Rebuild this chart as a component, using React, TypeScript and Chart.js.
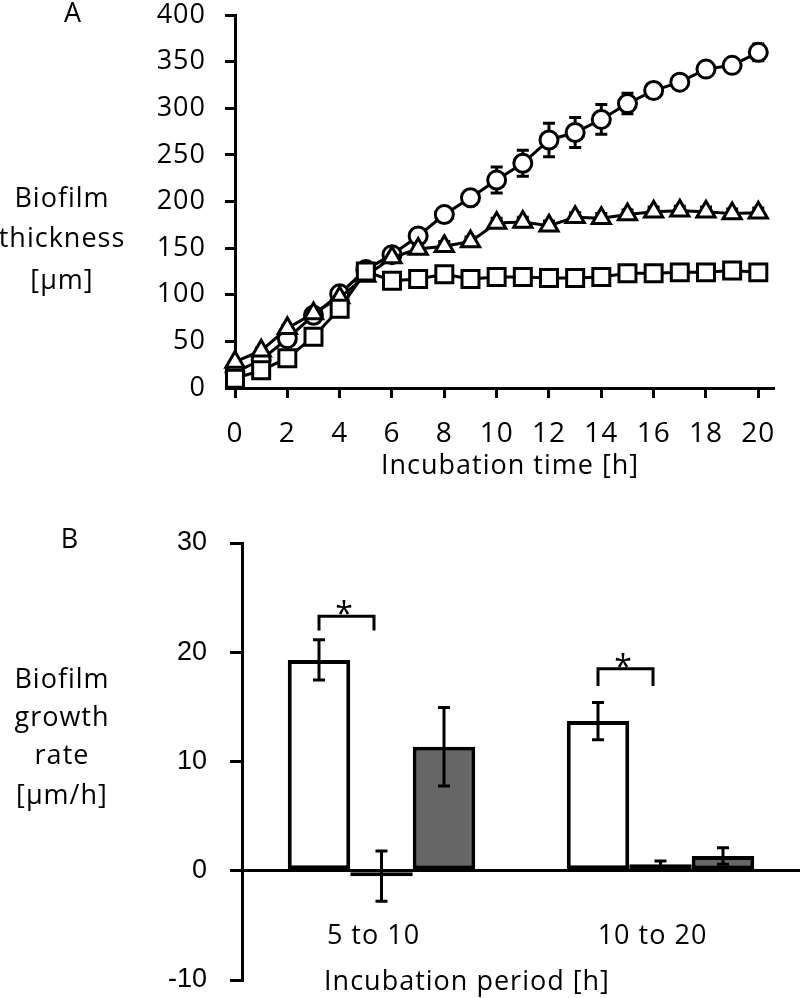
import { useEffect, useRef } from 'react';
import { Chart, registerables } from 'chart.js';

Chart.register(...registerables);

// ---------- Panel A data ----------
const times = [0, 1, 2, 3, 4, 5, 6, 7, 8, 9, 10, 11, 12, 13, 14, 15, 16, 17, 18, 19, 20];
const circleThickness = [17, 30, 53, 78, 101, 127, 143, 163, 186, 204, 223, 241, 266, 274, 288, 305, 319, 328, 342, 346, 360];
const circleErr = [2, 3, 3, 4, 4, 5, 5, 5, 6, 6, 14, 14, 18, 16, 16, 11, 6, 5, 6, 7, 9];
const triangleThickness = [28, 40, 64, 80, 97, 120, 140, 149, 152, 157, 177, 178, 174, 183, 182, 186, 189, 190, 189, 187, 188];
const triangleErr = [2, 3, 3, 3, 4, 4, 4, 4, 5, 5, 5, 5, 5, 5, 5, 5, 5, 5, 5, 5, 5];
const squareThickness = [10, 19, 32, 55, 85, 125, 115, 117, 122, 117, 119, 119, 118, 118, 119, 123, 123, 124, 124, 126, 124];
const squareErr = [2, 2, 3, 3, 4, 4, 4, 4, 4, 4, 4, 4, 4, 4, 4, 4, 4, 4, 4, 4, 4];
const panelALabel = 'A';
const panelAYTitle = ['Biofilm', 'thickness', '[µm]'];
const panelAXTitle = 'Incubation time [h]';

// ---------- Panel B data ----------
const periods = ['5 to 10', '10 to 20'];
const whiteRate = [19.3, 13.7];
const whiteRateErr = [1.85, 1.7];
const blackRate = [-0.5, 0.6];
const blackRateErr = [2.3, 0.3];
const greyRate = [11.35, 1.35];
const greyRateErr = [3.6, 0.75];
const sigBracketTop = [23.3, 18.5];
const sigBracketLeg = [22.0, 16.9];
const panelBLabel = 'B';
const panelBYTitle = ['Biofilm', 'growth', 'rate', '[µm/h]'];
const panelBXTitle = 'Incubation period [h]';

const SANS = '"Open Sans", "Noto Sans", sans-serif';

function makeErrorBarPlugin(id: string, hook: 'beforeDatasetsDraw' | 'afterDatasetsDraw') {
  return {
    id,
    [hook](chart: any) {
      const ctx = chart.ctx;
      const yScale = chart.scales.y;
      ctx.save();
      ctx.strokeStyle = '#000';
      ctx.lineWidth = 3;
      ctx.lineCap = 'butt';
      chart.data.datasets.forEach((ds: any, di: number) => {
        const errs = ds.errors as number[] | undefined;
        if (!errs) return;
        const meta = chart.getDatasetMeta(di);
        meta.data.forEach((el: any, i: number) => {
          const raw = ds.data[i];
          const v = typeof raw === 'number' ? raw : raw.y;
          const e = errs[i];
          if (!e) return;
          const yT = yScale.getPixelForValue(v + e);
          const yB = yScale.getPixelForValue(v - e);
          const x = el.x;
          ctx.beginPath();
          ctx.moveTo(x, yT);
          ctx.lineTo(x, yB);
          ctx.moveTo(x - 6, yT);
          ctx.lineTo(x + 6, yT);
          ctx.moveTo(x - 6, yB);
          ctx.lineTo(x + 6, yB);
          ctx.stroke();
        });
      });
      ctx.restore();
    },
  };
}

const panelATextPlugin = {
  id: 'panelAText',
  beforeDraw(chart: any) {
    (chart.ctx as any).letterSpacing = '1px';
  },
  afterDraw(chart: any) {
    const ctx = chart.ctx;
    ctx.save();
    (ctx as any).letterSpacing = '1px';
    ctx.fillStyle = '#000';
    ctx.textAlign = 'center';
    ctx.textBaseline = 'middle';
    ctx.font = `27px ${SANS}`;
    ctx.fillText(panelALabel, 73, 14);
    const ys = [199, 239, 281];
    panelAYTitle.forEach((t, i) => ctx.fillText(t, 62, ys[i]));
    ctx.fillText(panelAXTitle, 510, 466);
    ctx.restore();
  },
};

const panelBTextPlugin = {
  id: 'panelBText',
  afterDraw(chart: any) {
    const ctx = chart.ctx;
    const x = chart.scales.x;
    const y = chart.scales.y;
    ctx.save();
    (ctx as any).letterSpacing = '1px';
    ctx.fillStyle = '#000';
    ctx.strokeStyle = '#000';
    ctx.textAlign = 'center';
    ctx.textBaseline = 'middle';
    ctx.font = `27px ${SANS}`;
    ctx.fillText(panelBLabel, 70, 40);
    const ys = [180, 218, 256, 296];
    panelBYTitle.forEach((t, i) => ctx.fillText(t, 62, ys[i]));
    periods.forEach((p, i) => ctx.fillText(p, x.getPixelForValue(i) - 8, 436));
    ctx.fillText(panelBXTitle, 467, 482);
    // significance brackets
    const m0 = chart.getDatasetMeta(0);
    const m1 = chart.getDatasetMeta(1);
    ctx.lineWidth = 3;
    ctx.lineJoin = 'miter';
    ctx.font = `32px ${SANS}`;
    sigBracketTop.forEach((top, i) => {
      const x1 = m0.data[i].x;
      const x2 = x1 + (m1.data[i].x - x1) * 0.88;
      const yT = y.getPixelForValue(top);
      const yL = y.getPixelForValue(sigBracketLeg[i]);
      ctx.beginPath();
      ctx.moveTo(x1, yL);
      ctx.lineTo(x1, yT);
      ctx.lineTo(x2, yT);
      ctx.lineTo(x2, yL);
      ctx.stroke();
      ctx.textBaseline = 'alphabetic';
      ctx.fillText('*', (x1 + x2) / 2 - 2, yT + 9);
      ctx.textBaseline = 'middle';
    });
    ctx.restore();
  },
};

function PanelA() {
  const ref = useRef<HTMLCanvasElement | null>(null);
  useEffect(() => {
    if (!ref.current) return;
    const mk = (vals: number[], errs: number[], style: string, radius: number, order: number) => ({
      data: times.map((t, i) => ({ x: t, y: vals[i] })),
      errors: errs,
      borderColor: '#000',
      borderWidth: 3,
      pointStyle: style,
      pointRadius: radius,
      pointBorderWidth: 3,
      pointBorderColor: '#000',
      pointBackgroundColor: '#fff',
      backgroundColor: '#fff',
      tension: 0,
      clip: false,
      order,
    });
    const chart = new Chart(ref.current, {
      type: 'line',
      data: {
        datasets: [
          mk(circleThickness, circleErr, 'circle', 9, 2),
          mk(triangleThickness, triangleErr, 'triangle', 10.5, 1),
          mk(squareThickness, squareErr, 'rect', 12, 0),
        ] as any,
      },
      options: {
        animation: false,
        responsive: false,
        maintainAspectRatio: false,
        devicePixelRatio: 1,
        layout: { padding: { top: 12, right: 26, left: 0, bottom: 0 } },
        plugins: { legend: { display: false }, tooltip: { enabled: false } },
        scales: {
          x: {
            type: 'linear',
            min: 0,
            max: 20.6,
            afterBuildTicks: (axis: any) => {
              axis.ticks = axis.ticks.filter((t: any) => t.value % 2 === 0 && t.value <= 20);
            },
            afterFit: (s: any) => {
              s.height = 102;
              s.paddingLeft = 0;
              s.paddingRight = 0;
            },
            ticks: { stepSize: 2, includeBounds: false, color: '#000', font: { family: SANS, size: 28 }, padding: 19, maxRotation: 0, autoSkip: false },
            grid: { display: true, drawOnChartArea: false, drawTicks: true, tickLength: 10, tickWidth: 3, tickColor: '#000' },
            border: { display: true, color: '#000', width: 3 },
          },
          y: {
            type: 'linear',
            min: 0,
            max: 400,
            afterFit: (s: any) => {
              s.width = 235;
              s.paddingTop = 0;
              s.paddingBottom = 0;
            },
            ticks: { stepSize: 50, color: '#000', font: { family: SANS, size: 27 }, padding: 19 },
            grid: { display: true, drawOnChartArea: false, drawTicks: true, tickLength: 10, tickWidth: 3, tickColor: '#000' },
            border: { display: true, color: '#000', width: 3 },
          },
        },
      } as any,
      plugins: [makeErrorBarPlugin('errA', 'beforeDatasetsDraw'), panelATextPlugin],
    });
    return () => chart.destroy();
  }, []);
  return <canvas ref={ref} width={800} height={490} style={{ position: 'absolute', left: 0, top: 0, width: 800, height: 490 }} />;
}

function PanelB() {
  const ref = useRef<HTMLCanvasElement | null>(null);
  useEffect(() => {
    if (!ref.current) return;
    const mk = (vals: number[], errs: number[], fill: string) => ({
      data: vals,
      errors: errs,
      backgroundColor: fill,
      borderColor: '#000',
      borderWidth: 4,
      borderSkipped: false,
      barPercentage: 1,
      categoryPercentage: 0.672,
    });
    const chart = new Chart(ref.current, {
      type: 'bar',
      data: {
        labels: periods,
        datasets: [mk(whiteRate, whiteRateErr, '#ffffff'), mk(blackRate, blackRateErr, '#000000'), mk(greyRate, greyRateErr, '#666666')] as any,
      },
      options: {
        animation: false,
        responsive: false,
        maintainAspectRatio: false,
        devicePixelRatio: 1,
        layout: { padding: { top: 43, right: 0, left: 0, bottom: 18 } },
        plugins: { legend: { display: false }, tooltip: { enabled: false } },
        scales: {
          x: { display: false },
          y: {
            min: -10,
            max: 30,
            afterFit: (s: any) => {
              s.width = 242;
              s.paddingTop = 0;
              s.paddingBottom = 0;
            },
            ticks: { stepSize: 10, color: '#000', font: { family: '"Liberation Sans", Arial, sans-serif', size: 27 }, padding: 23 },
            grid: {
              display: true,
              drawOnChartArea: true,
              drawTicks: true,
              color: (c: any) => (c.tick && c.tick.value === 0 ? '#000' : 'rgba(0,0,0,0)'),
              lineWidth: 3,
              tickLength: 12,
              tickWidth: 3,
              tickColor: '#000',
            },
            border: { display: true, color: '#000', width: 3 },
          },
        },
      } as any,
      plugins: [makeErrorBarPlugin('errB', 'afterDatasetsDraw'), panelBTextPlugin],
    });
    return () => chart.destroy();
  }, []);
  return <canvas ref={ref} width={800} height={498} style={{ position: 'absolute', left: 0, top: 500, width: 800, height: 498 }} />;
}

export default function App() {
  return (
    <div style={{ position: 'absolute', left: 0, top: 0, width: 800, height: 998, background: '#fff' }}>
      <PanelA />
      <PanelB />
    </div>
  );
}
